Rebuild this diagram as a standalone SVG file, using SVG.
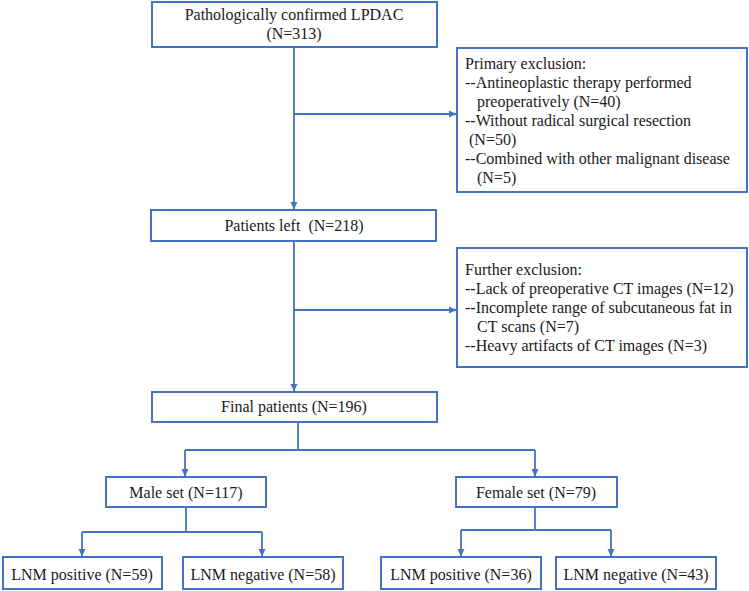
<svg xmlns="http://www.w3.org/2000/svg" width="749" height="591" viewBox="0 0 749 591">
<style>
.box{fill:#fff;stroke:#4472C4;stroke-width:2}
.ln{fill:none;stroke:#4472C4;stroke-width:1.8}
.t{font-family:'Liberation Serif','DejaVu Serif','Times New Roman',Times,serif;font-size:16px;fill:#1a1a1a}
.c{text-anchor:middle}
</style>
<defs>
<marker id="ah" markerWidth="8" markerHeight="8" refX="7" refY="4" orient="auto" markerUnits="userSpaceOnUse">
<path d="M0,0.5 L7.5,4 L0,7.5 Z" fill="#4472C4"/>
</marker>
</defs>
<rect width="749" height="591" fill="#fff"/>
<g id="connectors">
<path class="ln" d="M294,47 V209" marker-end="url(#ah)"/>
<path class="ln" d="M294,114 H456" marker-end="url(#ah)"/>
<path class="ln" d="M294,241 V391" marker-end="url(#ah)"/>
<path class="ln" d="M294,310 H456" marker-end="url(#ah)"/>
<path class="ln" d="M298,422 V450"/>
<path class="ln" d="M185,450 H535"/>
<path class="ln" d="M185,450 V476" marker-end="url(#ah)"/>
<path class="ln" d="M535,450 V476" marker-end="url(#ah)"/>
<path class="ln" d="M186,507 V532"/>
<path class="ln" d="M82,532 H262"/>
<path class="ln" d="M82,532 V556" marker-end="url(#ah)"/>
<path class="ln" d="M262,532 V556" marker-end="url(#ah)"/>
<path class="ln" d="M535,507 V530"/>
<path class="ln" d="M461,530 H611"/>
<path class="ln" d="M461,530 V556" marker-end="url(#ah)"/>
<path class="ln" d="M611,530 V556" marker-end="url(#ah)"/>
</g>
<g class="t" font-family="Liberation Serif, DejaVu Serif, serif" font-size="16">
<g id="n-start">
<rect class="box" x="152" y="2" width="285" height="45"/>
<text class="c" x="294" y="20">Pathologically confirmed LPDAC</text>
<text class="c" x="294" y="39">(N=313)</text>
</g>
<g id="n-primary">
<rect class="box" x="457" y="48" width="290" height="144"/>
<text x="465" y="69">Primary exclusion:</text>
<text x="465" y="88">--Antineoplastic therapy performed</text>
<text x="477" y="107">preoperatively (N=40)</text>
<text x="465" y="126">--Without radical surgical resection</text>
<text x="469" y="145">(N=50)</text>
<text x="465" y="164">--Combined with other malignant disease</text>
<text x="477" y="183">(N=5)</text>
</g>
<g id="n-left">
<rect class="box" x="151" y="210" width="285" height="31"/>
<text class="c" x="294" y="231" xml:space="preserve">Patients left  (N=218)</text>
</g>
<g id="n-further">
<rect class="box" x="457" y="248" width="290" height="119"/>
<text x="465" y="275">Further exclusion:</text>
<text x="465" y="294">--Lack of preoperative CT images (N=12)</text>
<text x="465" y="313">--Incomplete range of subcutaneous fat in</text>
<text x="477" y="332">CT scans (N=7)</text>
<text x="465" y="351">--Heavy artifacts of CT images (N=3)</text>
</g>
<g id="n-final">
<rect class="box" x="152" y="392" width="285" height="30"/>
<text class="c" x="294" y="412">Final patients (N=196)</text>
</g>
<g id="n-male">
<rect class="box" x="106" y="477" width="160" height="30"/>
<text class="c" x="186" y="498">Male set (N=117)</text>
</g>
<g id="n-female">
<rect class="box" x="456" y="477" width="161" height="30"/>
<text class="c" x="536" y="498">Female set (N=79)</text>
</g>
<g id="n-mpos">
<rect class="box" x="3" y="557" width="159" height="32"/>
<text class="c" x="82" y="580">LNM positive (N=59)</text>
</g>
<g id="n-mneg">
<rect class="box" x="183" y="557" width="160" height="32"/>
<text class="c" x="263" y="580">LNM negative (N=58)</text>
</g>
<g id="n-fpos">
<rect class="box" x="381" y="557" width="160" height="32"/>
<text class="c" x="461" y="580">LNM positive (N=36)</text>
</g>
<g id="n-fneg">
<rect class="box" x="556" y="557" width="160" height="32"/>
<text class="c" x="636" y="580">LNM negative (N=43)</text>
</g>
</g>
</svg>
